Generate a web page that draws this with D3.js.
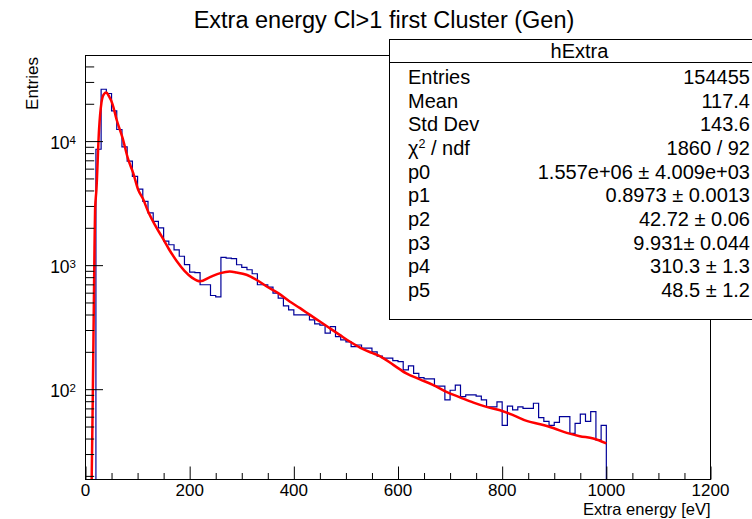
<!DOCTYPE html>
<html>
<head>
<meta charset="utf-8">
<script src="https://cdn.jsdelivr.net/npm/d3@7"></script>
<style>
body { margin: 0; background: #fff; }
text { font-family: "Liberation Sans", Arial, Helvetica, sans-serif; fill: #000; }
</style>
</head>
<body>
<div id="vis"></div>
<script>

// histogram hExtra: bins of 10 eV, first filled bin starts at 20
var binStart = 20, binWidth = 10;
var binCounts = [
  8600, 26200, 24200, 17500, 12400, 9000, 6900, 5200, 4100, 3270,
  2640, 2250, 2000, 1560, 1460, 1330, 1180, 1010, 880, 870,
  695, 695, 569, 555, 1154, 1140, 1130, 1007, 958, 918,
  852, 695, 695, 665, 595, 542, 470, 436, 397, 397,
  397, 362, 336, 328, 283, 319, 265, 250, 241, 220,
  227, 214, 214, 200, 185, 178, 178, 170, 167, 143,
  154, 134, 124, 121, 121, 106, 106, 82, 98, 108,
  87, 90, 90, 88, 82, 72, 72, 79, 51, 73,
  68, 72, 70, 70, 77, 59, 55, 51, 54, 60,
  60, 44, 53, 63, 55, 66, 39, 51
];

// fitted curve
var fitX = [11, 14, 17.3, 18.4, 21, 26, 30.7, 35, 40, 45, 52, 59.5, 71, 82, 91.5, 101, 111, 120, 133, 146,
            160, 175, 190, 205, 220, 239, 259, 277, 290, 309, 328, 348, 370, 392, 412, 431, 450, 469, 488, 508,
            533, 550, 565, 591, 616, 642, 668, 693, 719, 745, 770, 796, 821, 847, 873, 898, 924, 949, 975, 1000];
var fitY = [10, 87, 1380, 2800, 4070, 12400, 20500, 23800, 24600, 23000, 19800, 15000, 10650, 7110, 5550, 4070, 3380, 2720, 2120, 1710,
            1350, 1080, 900, 790, 740, 800, 863, 889, 873, 836, 762, 673, 595, 509, 450, 397, 351, 310, 274, 241,
            210, 196, 185, 157, 134, 120, 108, 95, 86, 78, 72, 67.6, 61.8, 55.5, 52.2, 48.7, 44.4, 41.8, 40, 36.5];

var xTicks = [0, 200, 400, 600, 800, 1000, 1200];
var xTickLabels = ["0", "200", "400", "600", "800", "1000", "1200"];
var yTicks = [100, 1000, 10000];
var yTickLabels = [["10", "2"], ["10", "3"], ["10", "4"]];

var statNames = ["Entries", "Mean", "Std Dev", "chi2", "p0", "p1", "p2", "p3", "p4", "p5"];
var statValues = ["154455", "117.4", "143.6", "1860 / 92", "1.557e+06 \u00b1 4.009e+03",
                  "0.8973 \u00b1 0.0013", "42.72 \u00b1 0.06", "9.931\u00b1 0.044", "310.3 \u00b1 1.3", "48.5 \u00b1 1.2"];

var width = 752, height = 519;
var margin = {top: 55.5, right: 41.5, bottom: 39.5, left: 85.5};

var svg = d3.select("#vis")
  .append("svg")
    .attr("width", width)
    .attr("height", height);

var xScale = d3.scaleLinear()
    .domain([0, 1200])
    .range([margin.left, width - margin.right]);

var yScale = d3.scaleLog()
    .domain([18.7, 4.9e4])
    .range([height - margin.bottom, margin.top]);

var y0 = yScale.domain()[0];

svg.append("clipPath").attr("id", "frameclip")
  .append("rect")
    .attr("x", margin.left).attr("y", margin.top)
    .attr("width", width - margin.left - margin.right)
    .attr("height", height - margin.top - margin.bottom);

// histogram as step line
var histPts = [[binStart, y0]];
binCounts.forEach(function(c, i){ histPts.push([binStart + i * binWidth, c]); });
histPts.push([binStart + binCounts.length * binWidth, binCounts[binCounts.length - 1]]);
histPts.push([binStart + binCounts.length * binWidth, y0]);

var histLine = d3.line()
    .x(function(d){ return xScale(d[0]) })
    .y(function(d){ return yScale(Math.max(d[1], y0)) })
    .curve(d3.curveStepAfter);

svg.append("path")
    .datum(histPts)
    .attr("clip-path", "url(#frameclip)")
    .attr("d", histLine)
    .attr("fill", "none")
    .attr("stroke", "#000099")
    .attr("stroke-width", 1.2);

// fit function
var fitLine = d3.line()
    .x(function(d, i){ return xScale(fitX[i]) })
    .y(function(d){ return yScale(d) })
    .curve(d3.curveMonotoneX);

svg.append("path")
    .datum(fitY)
    .attr("clip-path", "url(#frameclip)")
    .attr("d", fitLine)
    .attr("fill", "none")
    .attr("stroke", "#ff0000")
    .attr("stroke-width", 2.5);

// frame
svg.append("rect")
    .attr("x", margin.left).attr("y", margin.top)
    .attr("width", width - margin.left - margin.right)
    .attr("height", height - margin.top - margin.bottom)
    .attr("fill", "none")
    .attr("stroke", "#000")
    .attr("stroke-width", 1);

// x axis ticks
var xMinor = d3.range(0, 1201, 50).filter(function(v){ return v % 200 !== 0 });
var xAxisG = svg.append("g").attr("transform", "translate(0," + (height - margin.bottom) + ")");
xAxisG.call(d3.axisBottom(xScale).tickValues(xTicks).tickSize(-13).tickFormat(""));
xAxisG.append("g").call(d3.axisBottom(xScale).tickValues(xMinor).tickSize(-6.5).tickFormat(""));
xAxisG.selectAll(".domain").remove();
xAxisG.selectAll("line").attr("stroke", "#000");

svg.selectAll(".xlab")
  .data(xTicks)
  .enter()
  .append("text")
    .attr("class", "xlab")
    .attr("x", function(d){ return xScale(d) })
    .attr("y", height - margin.bottom + 16.5)
    .attr("text-anchor", "middle")
    .style("font-size", "17px")
    .text(function(d, i){ return xTickLabels[i] });

// y axis ticks
var yMinor = [];
[10, 100, 1000, 10000].forEach(function(dec){
  for (var k = 2; k <= 9; k++) {
    var v = k * dec;
    if (v >= y0 && v <= yScale.domain()[1]) yMinor.push(v);
  }
});
var yAxisG = svg.append("g").attr("transform", "translate(" + margin.left + ",0)");
yAxisG.call(d3.axisLeft(yScale).tickValues(yTicks).tickSize(-17.5).tickFormat(""));
yAxisG.append("g").call(d3.axisLeft(yScale).tickValues(yMinor).tickSize(-8.7).tickFormat(""));
yAxisG.selectAll(".domain").remove();
yAxisG.selectAll("line").attr("stroke", "#000");

var ylab = svg.selectAll(".ylab")
  .data(yTicks)
  .enter()
  .append("text")
    .attr("class", "ylab")
    .attr("x", margin.left - 9.5)
    .attr("y", function(d){ return yScale(d) + 8.3 })
    .attr("text-anchor", "end")
    .style("font-size", "17.5px");
ylab.append("tspan").text(function(d, i){ return yTickLabels[i][0] });
ylab.append("tspan")
    .attr("dy", -5)
    .style("font-size", "11.5px")
    .text(function(d, i){ return yTickLabels[i][1] });

// axis titles
svg.append("text")
    .attr("x", width - margin.right)
    .attr("y", 515)
    .attr("text-anchor", "end")
    .style("font-size", "16.5px")
    .text("Extra energy [eV]");

svg.append("text")
    .attr("transform", "translate(38," + (margin.top + 1.5) + ") rotate(-90)")
    .attr("text-anchor", "end")
    .style("font-size", "17px")
    .text("Entries");

// title
svg.append("text")
    .attr("x", 384)
    .attr("y", 28)
    .attr("text-anchor", "middle")
    .style("font-size", "23.5px")
    .text("Extra energy Cl>1 first Cluster (Gen)");

// stats box
var box = {x: 389.5, y: 39.5, w: 380, h: 280, head: 23};
svg.append("rect")
    .attr("x", box.x).attr("y", box.y)
    .attr("width", box.w).attr("height", box.h)
    .attr("fill", "#fff")
    .attr("stroke", "#000")
    .attr("stroke-width", 1);
svg.append("line")
    .attr("x1", box.x).attr("x2", box.x + box.w)
    .attr("y1", box.y + box.head).attr("y2", box.y + box.head)
    .attr("stroke", "#000");
svg.append("text")
    .attr("x", box.x + box.w / 2)
    .attr("y", box.y + 18.5)
    .attr("text-anchor", "middle")
    .style("font-size", "20px")
    .text("hExtra");

var rowY = function(i){ return 83.8 + i * 23.7 };

var names = svg.selectAll(".sname")
  .data(statNames)
  .enter()
  .append("text")
    .attr("class", "sname")
    .attr("x", 408)
    .attr("y", function(d, i){ return rowY(i) })
    .style("font-size", "20px");
names.each(function(d){
  var t = d3.select(this);
  if (d === "chi2") {
    t.append("tspan").text("\u03c7");
    t.append("tspan").attr("dy", -7).style("font-size", "12.5px").text("2");
    t.append("tspan").attr("dy", 7).text(" / ndf");
  } else {
    t.text(d);
  }
});

svg.selectAll(".sval")
  .data(statValues)
  .enter()
  .append("text")
    .attr("class", "sval")
    .attr("x", 750)
    .attr("y", function(d, i){ return rowY(i) })
    .attr("text-anchor", "end")
    .style("font-size", "20px")
    .text(function(d){ return d });

</script>
</body>
</html>
